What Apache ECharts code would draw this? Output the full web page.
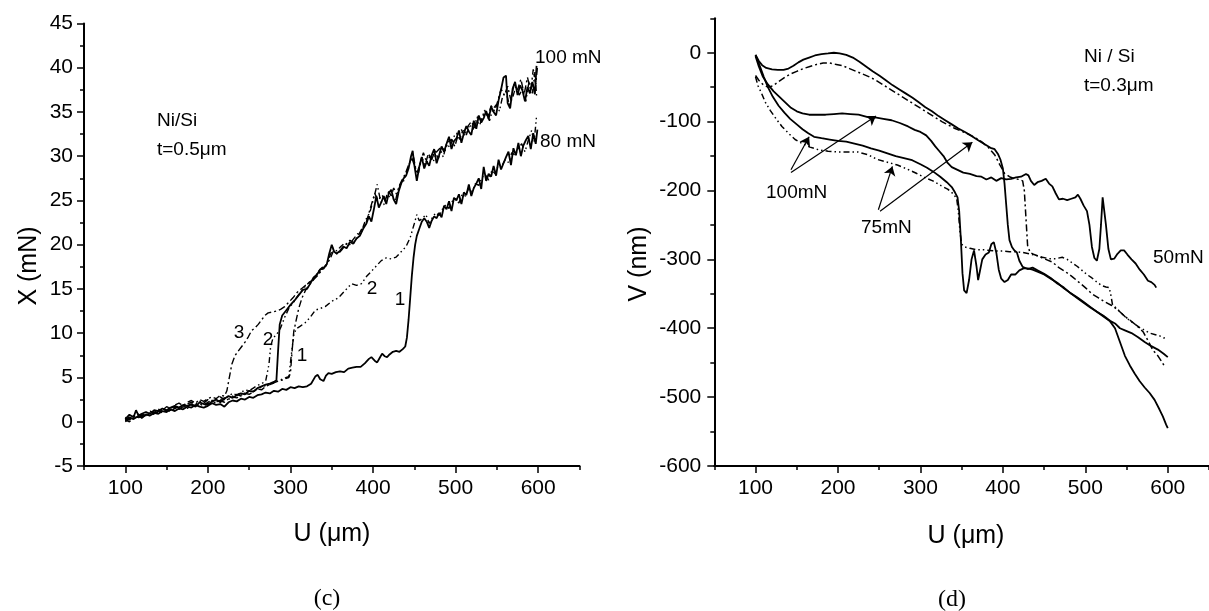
<!DOCTYPE html>
<html>
<head>
<meta charset="utf-8">
<script src="https://cdn.jsdelivr.net/npm/echarts@6/dist/echarts.min.js"></script>
<style>
html,body{margin:0;padding:0;background:#fff;overflow:hidden}
#area{width:1209px;height:611px}
</style>
</head>
<body>
<div id="area"></div>
<script>
// ---- panel (c): X (mN) vs U (um) ----
const uTicks = [100, 200, 300, 400, 500, 600];
const uMinor = [50, 150, 250, 350, 450, 550, 650];

// 100 mN, solid
const c100Solid = [[100,0.3],[105,0.8],[110,0.5],[113,1.3],[116,0.7],[120,0.9],[125,1.1],[130,0.9],[135,1.3],[140,1.2],[145,1.5],[150,1.3],[155,1.6],[160,1.8],[165,1.6],[170,1.9],[175,1.8],[180,2.0],[185,1.7],[190,2.2],[195,2.0],[200,1.9],[205,2.3],[210,2.5],[215,2.2],[220,2.6],[225,2.9],[230,2.7],[235,3.0],[240,3.2],[245,3.1],[250,3.5],[255,3.4],[260,3.8],[265,4.0],[270,4.2],[275,4.3],[280,4.5],[283,4.7],
  [285,8.0],[287,11.0],[290,12.0],[295,12.6],[300,13.2],[305,13.7],[310,14.3],[315,14.9],[320,15.0],[324,15.6],[328,16.3],[332,16.6],[336,17.2],[340,17.3],[344,17.8],[347,19.0],[350,20.0],[353,19.2],[356,19.0],[360,19.3],[364,19.8],[368,19.6],[372,20.3],[376,20.1],[380,20.7],[384,21.0],[388,21.8],[392,22.4],[395,23.2],[398,22.6],[401,24.0],[404,25.5],[407,24.2],[410,24.8],[413,25.5],[416,24.6],[419,25.8],[422,26.2],[425,25.1],[428,24.6],[431,26.0],[434,26.9],[437,27.5],[440,27.8],[443,28.6],[446,30.0],[448,30.6],
  [450,29.0],[453,27.2],[456,28.8],[459,29.9],[462,28.6],[465,29.4],[468,28.9],[471,30.1],[474,30.8],[477,29.2],[480,30.1],[483,31.1],[486,30.5],[489,31.4],[492,32.2],[495,30.8],[498,31.7],[501,32.0],[504,32.9],[507,31.5],[510,32.6],[513,33.4],[516,32.8],[519,32.4],[522,34.0],[525,33.1],[528,34.6],[531,33.8],[534,34.3],[537,35.1],[540,34.2],[543,35.6],[546,35.0],[549,34.6],[552,36.3],[555,37.5],[558,38.9],[561,39.1],[563,36.0],[566,35.4],[569,37.6],[572,38.4],[575,36.9],[578,38.0],[581,37.4],[584,36.2],[587,37.8],[590,37.1],[593,38.4],[596,37.0],[598,40.2]];

// 100 mN, curve 2 (dash-dot-dot)
const c100Two = [[100,0.1],[105,0.4],[110,0.7],[115,0.5],[120,0.8],[125,0.7],[130,1.0],[135,0.9],[140,1.3],[145,1.1],[150,1.4],[155,1.7],[160,1.5],[165,1.8],[170,1.6],[175,2.0],[180,2.2],[185,2.0],[190,2.3],[195,2.1],[200,2.5],[205,2.4],[210,2.6],[215,2.8],[220,2.5],[225,2.9],[230,3.2],[235,3.0],[240,3.3],[245,3.6],[250,3.5],[255,3.8],[260,4.1],[265,4.3],[270,4.6],[272,4.8],
  [274,6.5],[276,8.5],[279,9.5],[283,9.8],[288,10.6],[293,11.8],[298,12.8],[303,13.4],[308,14.1],[313,14.7],[318,15.3],[323,15.8],[328,16.0],[333,16.9],[338,17.4],[343,17.6],[348,18.8],[352,19.6],[356,19.3],[361,19.8],[366,20.2],[371,19.9],[376,20.6],[381,21.2],[386,21.5],[391,22.8],[396,23.6],[401,25.3],[405,26.8],[409,25.0],[413,24.5],[417,25.7],[421,25.3],[425,26.4],[429,25.6],[433,26.8],[437,27.2],[441,28.3],[445,29.4],[449,29.9],[453,28.0],[457,29.2],[461,30.4],[465,29.3],[469,30.0],[473,29.4],[477,30.5],[481,30.9],[485,29.9],[489,31.4],[493,31.0],[497,32.1],[501,32.6],[505,31.9],[509,33.0],[513,32.4],[517,33.6],[521,33.0],[525,34.1],[529,33.5],[533,34.5],[537,34.9],[541,34.0],[545,35.3],[549,35.8],[553,35.1],[557,36.8],[561,37.3],[565,35.8],[569,36.6],[573,37.9],[577,36.9],[581,37.6],[585,36.2],[589,38.5],[593,37.1],[596,39.5],[598,36.8]];

// 100 mN, curve 3 (dash-dot)
const c100Three = [[100,0.5],[105,0.2],[110,0.6],[115,0.9],[120,0.6],[125,1.0],[130,1.2],[135,1.0],[140,1.4],[145,1.3],[150,1.7],[155,1.5],[160,1.9],[165,2.1],[170,1.8],[175,2.2],[180,2.4],[185,2.1],[190,2.5],[195,2.3],[200,2.6],[205,2.8],[210,2.6],[215,3.0],[220,2.9],
  [223,3.5],[226,5.0],[229,6.5],[233,7.5],[237,8.0],[241,8.5],[245,9.0],[249,9.6],[253,10.3],[257,10.6],[261,11.0],[265,11.5],[269,12.0],[273,12.3],[278,12.4],[283,12.5],[288,12.7],[293,13.0],[298,13.5],[303,14.0],[308,14.6],[313,15.0],[318,15.4],[323,15.7],[328,16.1],[333,16.5],[338,17.2],[343,17.7],[348,18.4],[352,19.3],[357,18.9],[362,19.4],[367,20.0],[372,20.5],[377,20.2],[382,21.0],[387,21.9],[392,22.6],[397,24.2],[402,25.8],[406,25.0],[411,25.6],[415,24.9],[419,26.0],[423,25.4],[427,24.9],[431,26.5],[435,27.3],[439,28.0],[443,29.0],[447,29.8],[451,28.7],[455,28.1],[459,29.9],[463,29.0],[467,30.3],[471,29.6],[475,30.6],[479,29.7],[483,31.0],[487,30.6],[491,31.6],[495,31.9],[499,31.1],[503,32.4],[507,33.0],[511,32.3],[515,33.4],[519,33.9],[523,33.2],[527,34.6],[531,34.0],[535,35.2],[539,34.4],[543,35.7],[547,35.1],[551,36.2],[555,37.6],[559,36.9],[563,37.9],[567,36.3],[571,38.3],[575,37.5],[579,38.7],[583,37.0],[587,38.9],[591,37.4],[594,39.8],[597,38.1],[599,40.0]];

// 100 mN, curve 1 (dash-dot)
const c100One = [[100,0.0],[105,0.3],[110,0.6],[115,0.4],[120,0.7],[125,0.9],[130,0.8],[135,1.1],[140,1.0],[145,1.4],[150,1.2],[155,1.3],[160,1.6],[165,1.4],[170,1.7],[175,1.5],[180,1.9],[185,1.8],[190,2.0],[195,1.8],[200,2.1],[205,2.0],[210,2.3],[215,2.4],[220,2.2],[225,2.6],[230,2.8],[235,2.7],[240,3.0],[245,3.2],[250,3.1],[255,3.4],[260,3.7],[265,3.6],[270,4.0],[275,4.2],[280,4.4],[285,4.6],[290,4.7],[295,4.9],[298,5.0],
  [300,5.5],[302,8.0],[304,10.2],[307,11.5],[310,12.8],[314,14.0],[318,14.8],[322,15.4],[326,15.8],[330,16.3],[335,16.8],[340,17.4]];

// 80 mN, curve 1 (solid)
const c80Solid = [[100,0.2],[105,0.5],[110,0.3],[115,0.6],[120,0.5],[125,0.8],[130,0.7],[135,1.0],[140,0.9],[145,1.2],[150,1.1],[155,1.4],[160,1.2],[165,1.5],[170,1.4],[175,1.7],[180,1.6],[185,1.9],[190,1.7],[195,1.6],[200,1.8],[205,2.1],[210,1.9],[215,2.0],[220,1.7],[225,2.2],[230,2.4],[235,2.3],[240,2.6],[245,2.5],[250,2.8],[255,2.7],[260,3.0],[265,3.1],[270,3.3],[275,3.2],[280,3.5],[285,3.4],[290,3.7],[295,3.6],[300,3.9],[305,3.8],[310,4.0],[315,3.9],[320,4.0],[325,4.3],[330,5.1],[333,5.3],[336,4.8],[340,4.6],[343,5.2],[346,5.5],[350,5.4],[355,5.6],[360,5.7],[365,5.6],[370,6.0],[375,6.1],[380,6.2],[385,6.2],[390,6.6],[395,7.1],[398,7.3],[402,6.9],[405,6.7],[408,7.2],[411,7.7],[414,7.4],[417,7.3],[420,7.6],[424,7.9],[428,8.0],[432,7.9],[436,8.2],[439,8.5],
  [441,9.5],[443,11.5],[445,14.0],[447,16.5],[449,18.5],[451,20.0],[453,21.0],[456,21.8],[459,22.6],[462,23.0],[465,22.6],[468,21.9],[471,22.7],[474,23.2],[477,23.0],
  [480,23.6],[483,23.1],[486,24.4],[489,24.0],[492,24.9],[495,23.8],[498,25.3],[501,25.0],[504,25.7],[507,24.6],[510,25.9],[513,25.6],[516,26.8],[519,25.5],[522,26.4],[525,26.9],[528,27.5],[531,26.3],[534,28.8],[537,27.2],[540,28.0],[543,27.7],[546,28.9],[549,27.8],[552,29.6],[555,28.5],[558,29.2],[561,29.9],[564,30.5],[567,29.0],[570,30.9],[573,30.1],[576,31.5],[579,30.0],[582,31.2],[585,31.8],[588,32.3],[591,30.8],[594,32.6],[597,31.4],[599,33.0]];

// 80 mN, curve 2 (dash-dot-dot)
const c80Two = [[100,0.2],[105,0.0],[110,0.4],[115,0.6],[120,0.4],[125,0.8],[130,0.7],[135,0.9],[140,1.2],[145,1.0],[150,1.3],[155,1.2],[160,1.5],[165,1.7],[170,1.5],[175,1.8],[180,1.9],[185,1.7],[190,2.1],[195,1.9],[200,2.2],[205,2.4],[210,2.2],[215,2.5],[220,2.7],[225,2.5],[230,2.9],[235,3.1],[240,2.9],[245,3.3],[250,3.5],[255,3.4],[260,3.7],[265,3.9],[270,4.1],[275,4.2],[280,4.4],[285,4.6],[290,4.8],[295,5.0],[298,5.1],
  [301,7.5],[304,9.8],[307,10.5],[312,10.8],[318,11.2],[324,11.8],[330,12.6],[336,12.8],[342,13.0],[350,13.6],[358,14.0],[366,14.8],[374,15.6],[380,15.4],[386,15.6],[392,16.4],[398,17.0],[404,17.6],[410,18.2],[416,18.5],[422,18.4],[428,18.6],[434,19.2],[440,19.8],[445,20.8],[450,22.4],[453,23.4],[456,22.7],[460,23.0],[464,23.4],[468,22.4],[472,23.1],[476,23.6],[480,23.3],[484,24.0],[488,24.5],[492,24.1],[496,24.9],[500,25.2],[504,24.7],[508,25.7],[512,25.5],[516,26.4],[520,26.0],[524,26.9],[528,26.7],[532,27.6],[536,27.9],[540,27.3],[544,28.4],[548,28.0],[552,29.1],[556,28.9],[560,29.6],[564,29.3],[568,30.4],[572,30.1],[576,30.9],[580,31.4],[584,30.5],[588,31.8],[592,32.9],[595,31.6],[598,34.5]];

// ---- panel (d): V (nm) vs U (um) ----
const vTicks = [-600, -500, -400, -300, -200, -100, 0];
const vMinor = [-550, -450, -350, -250, -150, -50, 50];

const dSolidUpper = [[100,-3],[104,-12],[108,-18],[113,-22],[120,-24],[127,-25],[134,-25],[140,-23],[146,-19],[152,-14],[158,-10],[165,-7],[172,-4],[180,-2],[188,-1],[195,0],[202,-1],[210,-3],[218,-7],[226,-13],[234,-20],[242,-27],[250,-33],[258,-40],[266,-47],[274,-53],[282,-59],[290,-65],[298,-72],[306,-79],[314,-85],[322,-92],[330,-98],[338,-104],[346,-110],[354,-115],[362,-121],[370,-127],[378,-133],[385,-138],[390,-140],[394,-147],[397,-155],[400,-168],[402,-190],[404,-220],[406,-250],[408,-272],[411,-282],[414,-287],[417,-290],[420,-302],[424,-311],[430,-314],[436,-312],[442,-316],[450,-321],[458,-327],[466,-335],[474,-341],[482,-349],[490,-355],[498,-362],[506,-369],[514,-376],[522,-382],[530,-389],[536,-393],[542,-400],[548,-403],[556,-407],[564,-413],[572,-420],[580,-426],[588,-431],[595,-437],[600,-442]];

const dDashUpper = [[100,-33],[104,-40],[109,-46],[115,-50],[121,-48],[128,-42],[135,-36],[142,-31],[150,-27],[158,-23],[166,-20],[174,-17],[182,-15],[190,-15],[198,-17],[206,-19],[214,-23],[222,-27],[230,-31],[238,-35],[246,-40],[254,-46],[262,-52],[270,-58],[278,-64],[286,-70],[294,-76],[302,-82],[310,-88],[318,-94],[326,-100],[334,-105],[342,-110],[350,-114],[358,-118],[366,-123],[374,-129],[382,-137],[390,-148],[396,-162],[402,-175],[408,-180],[414,-183],[420,-184],[424,-186],[426,-200],[428,-240],[430,-280],[433,-290],[438,-293],[444,-296],[452,-300],[460,-304],[468,-312],[476,-318],[484,-325],[492,-333],[500,-341],[508,-350],[516,-356],[524,-362],[532,-367],[540,-374],[548,-383],[556,-390],[564,-398],[570,-405],[576,-418],[582,-432],[588,-440],[593,-449],[596,-455]];

const dSolidMid = [[100,-5],[104,-20],[109,-35],[115,-46],[122,-56],[129,-64],[136,-72],[143,-80],[150,-85],[157,-88],[165,-90],[175,-90],[185,-90],[195,-89],[205,-88],[215,-89],[225,-90],[235,-93],[245,-94],[255,-96],[265,-98],[275,-102],[285,-107],[293,-112],[300,-115],[307,-120],[313,-128],[318,-136],[323,-143],[328,-150],[333,-160],[338,-166],[345,-170],[352,-174],[360,-176],[368,-179],[374,-180],[380,-184],[386,-181],[392,-186],[398,-182],[404,-184],[410,-183],[416,-181],[422,-180],[428,-176],[431,-178],[434,-186],[438,-192],[442,-188],[447,-186],[452,-183],[456,-190],[460,-194],[464,-204],[468,-213],[473,-212],[478,-214],[483,-212],[488,-210],[491,-206],[494,-212],[498,-222],[502,-230],[505,-250],[508,-282],[511,-298],[514,-302],[517,-285],[519,-250],[521,-210],[523,-212],[525,-250],[528,-285],[531,-300],[535,-299],[539,-292],[543,-287],[547,-287],[551,-293],[556,-300],[561,-306],[566,-315],[571,-322],[576,-331],[580,-333],[584,-337],[586,-341]];

const dSolidLower = [[100,-3],[103,-12],[106,-22],[110,-35],[115,-50],[121,-64],[128,-77],[135,-87],[142,-96],[150,-104],[157,-111],[164,-117],[171,-122],[180,-124],[190,-126],[200,-128],[210,-129],[220,-132],[230,-135],[240,-139],[250,-142],[260,-146],[270,-150],[280,-153],[290,-156],[300,-162],[308,-167],[316,-173],[324,-180],[332,-188],[338,-195],[342,-203],[345,-210],[347,-230],[349,-270],[351,-320],[353,-345],[356,-349],[359,-330],[362,-300],[365,-287],[368,-310],[370,-330],[372,-318],[375,-300],[379,-293],[383,-290],[386,-278],[389,-275],[392,-290],[395,-315],[398,-328],[402,-333],[406,-330],[410,-322],[415,-322],[420,-316],[425,-313],[430,-313],[436,-315],[442,-318],[450,-322],[458,-328],[466,-334],[474,-342],[482,-349],[490,-356],[498,-363],[506,-370],[514,-376],[522,-383],[530,-390],[536,-400],[542,-420],[548,-440],[554,-454],[560,-466],[566,-477],[572,-486],[578,-494],[584,-504],[590,-518],[594,-528],[598,-540],[600,-545]];

const dDashLower = [[100,-35],[103,-48],[107,-58],[112,-72],[118,-84],[125,-96],[132,-107],[140,-117],[148,-126],[157,-132],[166,-137],[177,-141],[188,-143],[200,-144],[212,-144],[224,-144],[236,-148],[248,-155],[260,-159],[272,-163],[284,-169],[295,-175],[305,-181],[315,-186],[325,-193],[333,-198],[340,-205],[344,-212],[346,-230],[348,-260],[350,-278],[354,-282],[360,-284],[368,-286],[376,-286],[384,-287],[392,-288],[400,-288],[408,-289],[416,-289],[424,-290],[432,-292],[440,-294],[448,-297],[456,-299],[464,-299],[472,-297],[478,-300],[484,-305],[490,-310],[496,-316],[502,-322],[508,-327],[514,-333],[520,-338],[525,-340],[529,-341],[531,-352],[533,-366],[537,-370],[542,-376],[548,-383],[554,-389],[560,-394],[566,-399],[572,-403],[578,-407],[584,-409],[590,-411],[595,-414],[600,-413]];

// arrows from the labels to the curves (data coordinates)
const arrows = [
  [[143,-170],[165,-122]],
  [[143,-174],[246,-92]],
  [[249,-228],[266,-165]],
  [[251,-230],[363,-130]]
];

const FONT = "'Liberation Sans', Arial, sans-serif";
const SERIF = "'Liberation Serif', 'Times New Roman', serif";
const DASH_DOT = [7, 3, 2, 3];
const DASH_DOT_DOT = [6, 3, 1.5, 3, 1.5, 3];

function line(name, data, xi, yi, type, width) {
  return {
    name: name, type: 'line', data: data,
    xAxisIndex: xi, yAxisIndex: yi,
    symbol: 'none', showSymbol: false, silent: true,
    lineStyle: { color: '#000', width: width, type: type }
  };
}

function xAxes(grid) {
  return [
    {
      gridIndex: grid, type: 'value', position: 'bottom', min: 50, max: 650,
      axisLine: { show: true, onZero: false, lineStyle: { color: '#000', width: 2 } },
      axisTick: { show: true, customValues: uTicks, length: 7, lineStyle: { color: '#000', width: 1.5 } },
      axisLabel: { customValues: uTicks, color: '#000', fontSize: 21, fontFamily: FONT, margin: 12 },
      splitLine: { show: false }
    },
    {
      gridIndex: grid, type: 'value', position: 'bottom', offset: 0, min: 50, max: 650,
      axisLine: { show: false, onZero: false },
      axisTick: { show: true, customValues: uMinor, length: 4, lineStyle: { color: '#000', width: 1.5 } },
      axisLabel: { show: false },
      splitLine: { show: false }
    }
  ];
}

function texts(list) {
  return list.map(function (t) {
    return {
      type: 'text', x: t[1], y: t[2], rotation: t[5] || 0, silent: true,
      style: {
        text: t[0], fill: '#000', font: (t[4] || '19px ' + FONT),
        align: t[3] || 'left', verticalAlign: 'middle'
      }
    };
  });
}

const labelList = [
  ['Ni/Si', 157, 121], ['t=0.5\u03bcm', 157, 150],
  ['100 mN', 535, 58], ['80 mN', 540, 142],
  ['3', 239, 333, 'center'], ['2', 268, 340, 'center'], ['1', 302, 356, 'center'],
  ['2', 372, 289, 'center'], ['1', 400, 300, 'center'],
  ['Ni / Si', 1084, 57], ['t=0.3\u03bcm', 1084, 86],
  ['100mN', 766, 193], ['75mN', 861, 228], ['50mN', 1153, 258],
  ['X (mN)', 29, 266, 'center', '25px ' + FONT, Math.PI / 2],
  ['V (nm)', 639, 264, 'center', '25px ' + FONT, Math.PI / 2],
  ['U (\u03bcm)', 332, 534, 'center', '25px ' + FONT],
  ['U (\u03bcm)', 966, 536, 'center', '25px ' + FONT],
  ['(c)', 327, 599, 'center', '24px ' + SERIF],
  ['(d)', 952, 600, 'center', '24px ' + SERIF]
];

const axisLineStyle = { show: true, onZero: false, lineStyle: { color: '#000', width: 2 } };

let option = {
  animation: false,
  backgroundColor: '#fff',
  grid: [
    { left: 84, top: 23.4, width: 495.5, height: 442.6 },
    { left: 714.3, top: 18.3, width: 503, height: 447.7 }
  ],
  xAxis: xAxes(0).concat(xAxes(1)),
  yAxis: [
    {
      gridIndex: 0, type: 'value', position: 'left', min: -5, max: 45, interval: 5,
      axisLine: axisLineStyle,
      axisTick: { show: true, length: 7, lineStyle: { color: '#000', width: 1.5 } },
      minorTick: { show: true, splitNumber: 2, length: 4, lineStyle: { color: '#000', width: 1.5 } },
      axisLabel: { color: '#000', fontSize: 21, fontFamily: FONT, margin: 11 },
      splitLine: { show: false }
    },
    {
      gridIndex: 1, type: 'value', position: 'left', min: -600, max: 50,
      axisLine: axisLineStyle,
      axisTick: { show: true, customValues: vTicks, length: 7, lineStyle: { color: '#000', width: 1.5 } },
      axisLabel: { customValues: vTicks, color: '#000', fontSize: 21, fontFamily: FONT, margin: 13 },
      splitLine: { show: false }
    },
    {
      gridIndex: 1, type: 'value', position: 'left', offset: 0, min: -600, max: 50,
      axisLine: { show: false, onZero: false },
      axisTick: { show: true, customValues: vMinor, length: 4, lineStyle: { color: '#000', width: 1.5 } },
      axisLabel: { show: false },
      splitLine: { show: false }
    }
  ],
  series: [
    line('100 mN 1', c100One, 0, 0, DASH_DOT, 1.4),
    line('100 mN 3', c100Three, 0, 0, DASH_DOT, 1.4),
    line('100 mN 2', c100Two, 0, 0, DASH_DOT_DOT, 1.4),
    line('100 mN', c100Solid, 0, 0, 'solid', 1.8),
    line('80 mN 2', c80Two, 0, 0, DASH_DOT_DOT, 1.4),
    line('80 mN 1', c80Solid, 0, 0, 'solid', 1.8),
    line('upper dash', dDashUpper, 2, 1, DASH_DOT, 1.5),
    line('lower dash', dDashLower, 2, 1, DASH_DOT_DOT, 1.5),
    line('upper solid', dSolidUpper, 2, 1, 'solid', 1.8),
    line('50mN', dSolidMid, 2, 1, 'solid', 1.8),
    Object.assign(line('lower solid', dSolidLower, 2, 1, 'solid', 1.8), {
      markLine: {
        silent: true, animation: false,
        symbol: ['none', 'arrow'], symbolSize: 9,
        label: { show: false },
        lineStyle: { color: '#000', width: 1.2, type: 'solid' },
        data: arrows.map(function (a) { return [{ coord: a[0] }, { coord: a[1] }]; })
      }
    })
  ],
  graphic: texts(labelList)
};

let myChart = echarts.init(document.getElementById('area'));
myChart.setOption(option);
window.addEventListener('resize', function () {
  myChart.resize();
}, false);
</script>
</body>
</html>
